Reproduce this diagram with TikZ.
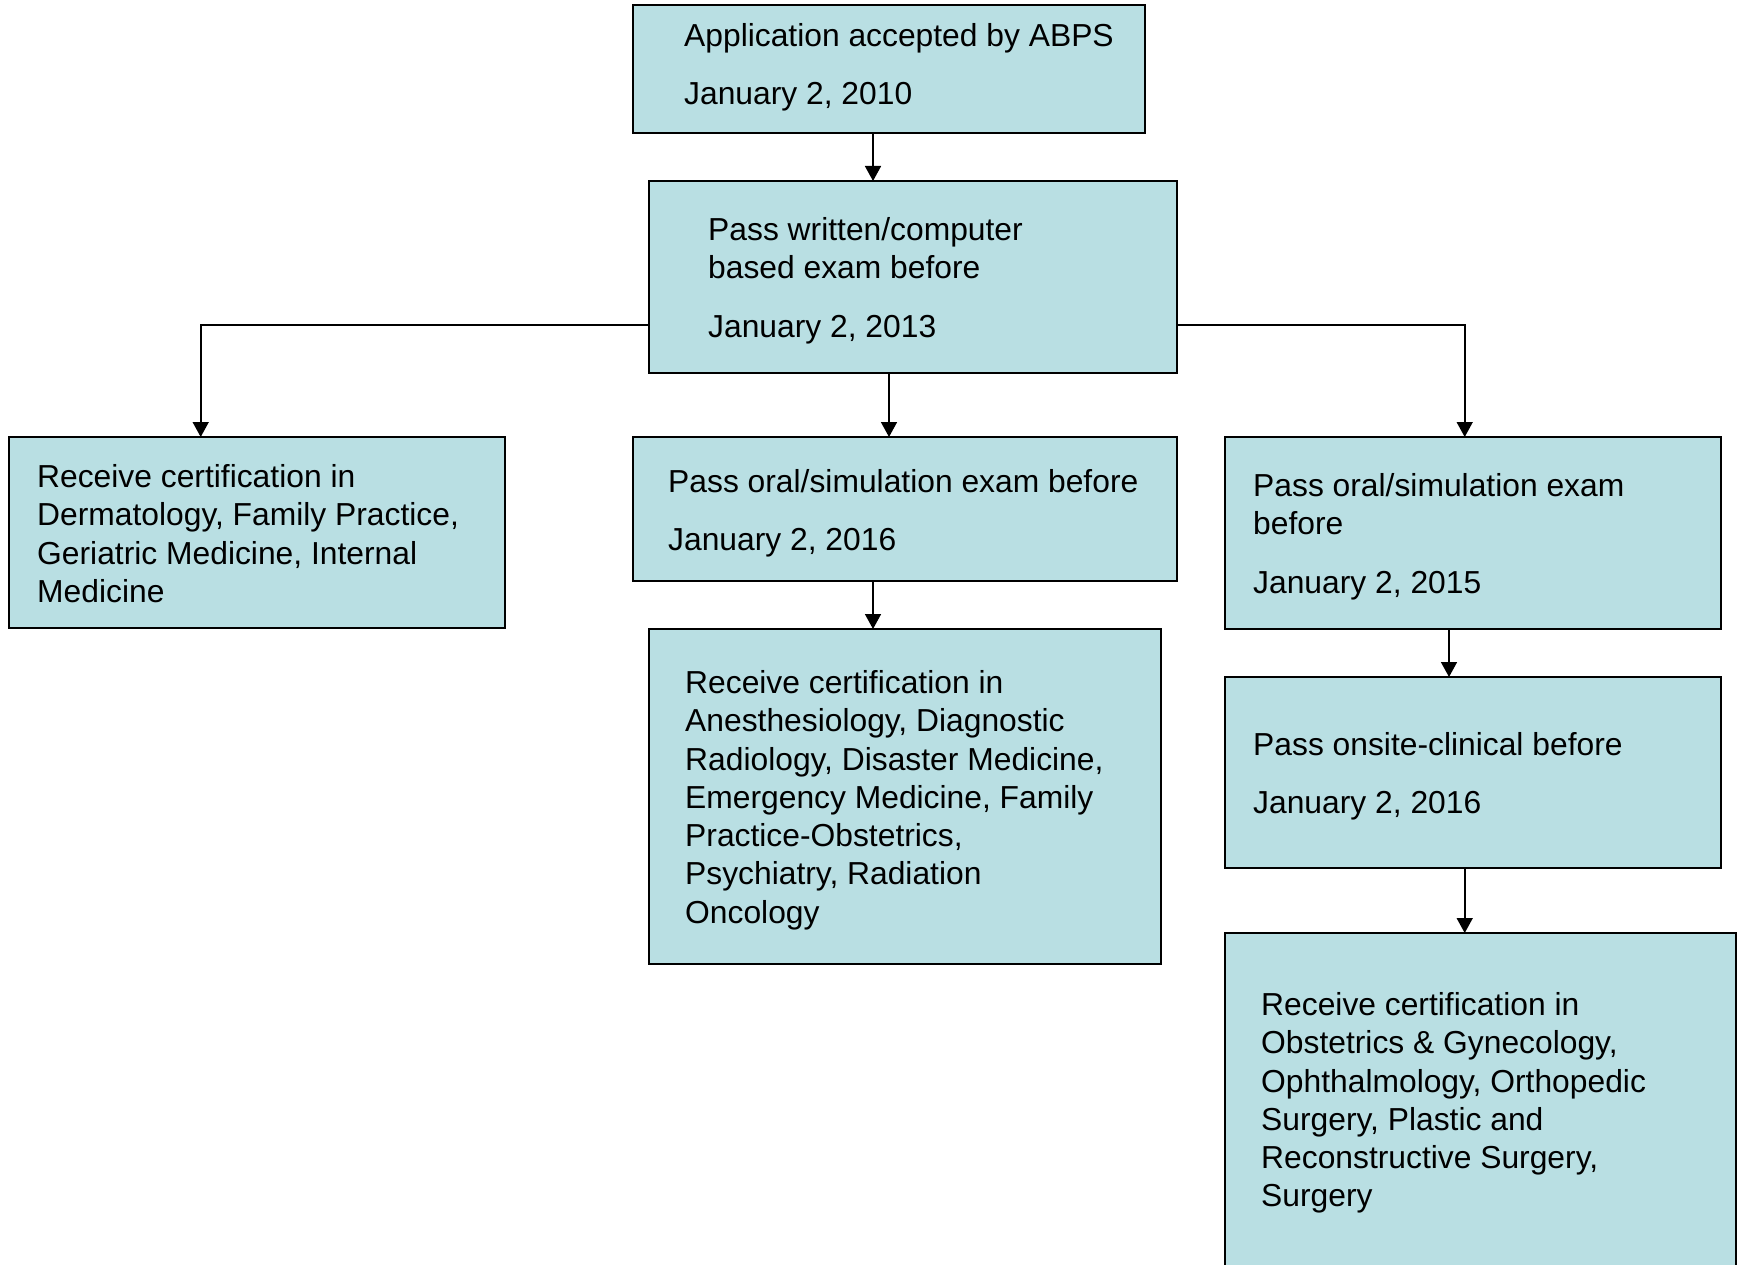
\documentclass[tikz,border=0pt]{standalone}
\usepackage{fontspec}
\setmainfont{Liberation Sans}
\usetikzlibrary{arrows.meta}
\definecolor{boxc}{RGB}{185,223,227}
\tikzset{
  box/.style={draw=black, line width=2pt, fill=boxc, anchor=north west, inner sep=0pt, outer sep=0pt},
  txt/.style={anchor=north west, inner sep=0pt, align=left, font=\fontsize{31.8}{38.3}\selectfont},
  arr/.style={line width=1.6pt, -{Triangle[length=15pt,width=16pt]}}
}
\begin{document}
\begin{tikzpicture}[x=1pt,y=-1pt]
\useasboundingbox (0,0) rectangle (1744,1265);
% boxes
\node[box, minimum width=512pt, minimum height=128pt] (b1) at (633,5) {};
\node[box, minimum width=528pt, minimum height=192pt] (b2) at (649,181) {};
\node[box, minimum width=496pt, minimum height=191pt] (l1) at (9,437) {};
\node[box, minimum width=544pt, minimum height=144pt] (m1) at (633,437) {};
\node[box, minimum width=512pt, minimum height=335pt] (m2) at (649,629) {};
\node[box, minimum width=496pt, minimum height=192pt] (r1) at (1225,437) {};
\node[box, minimum width=496pt, minimum height=191pt] (r2) at (1225,677) {};
\node[box, minimum width=511pt, minimum height=380pt] (r3) at (1225,933) {};
% texts
\node[txt] (t1) at (684,19.1) {\strut Application accepted by ABPS\\[20pt]January 2, 2010};
\node[txt] (t2) at (708,213.4) {\strut Pass written/computer\\based exam before\\[20pt]January 2, 2013};
\node[txt] (t3) at (37,460.4) {\strut Receive certification in\\Dermatology, Family Practice,\\Geriatric Medicine, Internal\\Medicine};
\node[txt] (t4) at (668,465.4) {\strut Pass oral/simulation exam before\\[20pt]January 2, 2016};
\node[txt] (t5) at (685,666.4) {\strut Receive certification in\\Anesthesiology, Diagnostic\\Radiology, Disaster Medicine,\\Emergency Medicine, Family\\Practice-Obstetrics,\\Psychiatry, Radiation\\Oncology};
\node[txt] (t6) at (1253,469.4) {\strut Pass oral/simulation exam\\before\\[20pt]January 2, 2015};
\node[txt] (t7) at (1253,728.4) {\strut Pass onsite-clinical before\\[20pt]January 2, 2016};
\node[txt] (t8) at (1261,988.4) {\strut Receive certification in\\Obstetrics \& Gynecology,\\Ophthalmology, Orthopedic\\Surgery, Plastic and\\Reconstructive Surgery,\\Surgery};
% connector guide coordinates
\coordinate (xa) at (873,0);
\coordinate (xb) at (889,0);
\coordinate (xl) at (200.7,325);
\coordinate (xr) at (1464.7,325);
\coordinate (xc) at (1449,0);
% connectors
\draw[arr] (b1.south -| xa) -- (b2.north -| xa);
\draw[arr] (b2.west |- xl) -| (l1.north -| xl);
\draw[arr] (b2.south -| xb) -- (m1.north -| xb);
\draw[arr] (b2.east |- xr) -| (r1.north -| xr);
\draw[arr] (m1.south -| xa) -- (m2.north -| xa);
\draw[arr] (r1.south -| xc) -- (r2.north -| xc);
\draw[arr] (r2.south -| xr) -- (r3.north -| xr);
\end{tikzpicture}
\end{document}
